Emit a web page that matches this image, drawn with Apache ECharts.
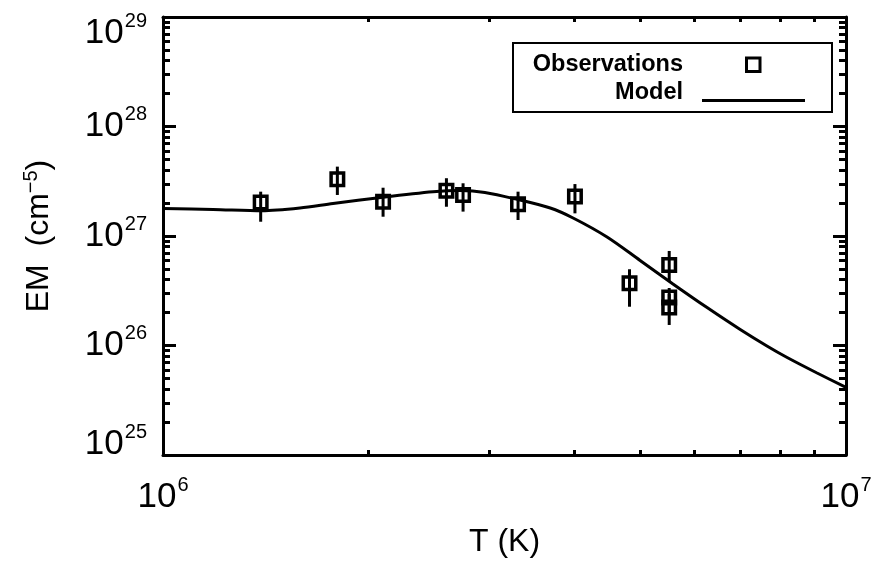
<!DOCTYPE html>
<html><head><meta charset="utf-8">
<script src="https://cdn.jsdelivr.net/npm/echarts@6/dist/echarts.min.js"></script>
<style>html,body{margin:0;padding:0;background:#fff}#c{width:877px;height:563px}</style>
</head><body><div id="c"></div>
<script>
// Observations
const obsT    = [1.39e6, 1.80e6, 2.10e6, 2.60e6, 2.75e6, 3.31e6, 4.01e6, 4.82e6, 5.51e6, 5.51e6, 5.51e6];
const obsEM   = [2.02e27, 3.30e27, 2.06e27, 2.59e27, 2.37e27, 1.95e27, 2.29e27, 3.70e26, 5.43e26, 2.74e26, 2.22e26];
const obsLow  = [1.35e27, 2.37e27, 1.50e27, 1.85e27, 1.67e27, 1.40e27, 1.61e27, 2.26e26, 3.88e26, 2.02e26, 1.54e26];
const obsHigh = [2.54e27, 4.30e27, 2.76e27, 3.37e27, 3.03e27, 2.54e27, 2.98e27, 4.97e26, 7.30e26, 3.35e26, 2.95e26];
// Model
const modelT  = [1.00e6, 1.184e6, 1.396e6, 1.587e6, 1.774e6, 2.10e6, 2.485e6, 2.72e6, 2.96e6, 3.30e6, 3.69e6, 3.985e6, 4.468e6, 4.995e6, 5.58e6, 6.26e6, 7.00e6, 7.66e6, 8.20e6, 9.07e6, 1.00e7];
const modelEM = [1.78e27, 1.75e27, 1.70e27, 1.80e27, 1.98e27, 2.26e27, 2.53e27, 2.60e27, 2.50e27, 2.16e27, 1.80e27, 1.46e27, 9.79e26, 5.98e26, 3.65e26, 2.22e26, 1.40e26, 9.90e25, 7.77e25, 5.61e25, 4.15e25];
// Tick labels (exponents of 10)
const xTickExps = [6, 7];
const yTickExps = [25, 26, 27, 28, 29];
const minorMult = [2, 3, 4, 5, 6, 7, 8, 9];
// Legend entries
const legendNames = ['Observations', 'Model'];

const FONT = 'Liberation Sans';
const p10 = e => Number('1e' + e);
const xMajor = xTickExps.map(p10);
const yMajor = yTickExps.map(p10);
const xMinor = [], yMinor = [];
xTickExps.slice(0, -1).forEach(e => minorMult.forEach(m => xMinor.push(m * p10(e))));
yTickExps.slice(0, -1).forEach(e => minorMult.forEach(m => yMinor.push(m * p10(e))));
// label positions nudged a hair inside the extent so end labels are never filtered out
const inside = arr => arr.map((v, i) => i === 0 ? v * (1 + 1e-9) : (i === arr.length - 1 ? v * (1 - 1e-9) : v));

const expOf = v => Math.round(Math.log10(v));
const labelRich = {
  b:  {fontFamily: FONT, fontSize: 35, color: '#000', lineHeight: 44},
  s:  {fontFamily: FONT, fontSize: 20, color: '#000', verticalAlign: 'top', lineHeight: 20, padding: [0, 0, 0, 1]},
  gt: {fontSize: 10, lineHeight: 32},
  gb: {fontSize: 10, lineHeight: 21}
};
function yLabel(v) {
  const e = expOf(v);
  const core = '{b|10}{s|' + e + '}';
  if (e === yTickExps[yTickExps.length - 1]) return '{gt| }\n' + core;
  if (e === yTickExps[0]) return core + '\n{gb| }';
  return core;
}
function xLabel(v) { return '{b|10}{s|' + expOf(v) + '}'; }

const lineW = 3;
const axisBase = (extra) => Object.assign({
  type: 'log', logBase: 10, splitLine: {show: false},
  axisLine: {show: false}, axisLabel: {show: false}
}, extra);

const xMin = xMajor[0], xMax = xMajor[xMajor.length - 1];
const yMin = yMajor[0], yMax = yMajor[yMajor.length - 1];
const legendFont = 'bold 23.5px "Liberation Sans"';

const option = {
  backgroundColor: '#fff',
  animation: false,
  grid: {left: 163, right: 31, top: 17, bottom: 108, containLabel: false, outerBoundsMode: 'none'},
  legend: {show: false, data: legendNames},
  graphic: [
    {type: 'rect', shape: {x: 513, y: 43, width: 319, height: 69},
     style: {fill: 'none', stroke: '#000', lineWidth: 2}, z: 10},
    {type: 'text', x: 683, y: 65, style: {text: legendNames[0], align: 'right', verticalAlign: 'middle',
     font: legendFont, fill: '#000'}, z: 10},
    {type: 'text', x: 683, y: 93, style: {text: legendNames[1], align: 'right', verticalAlign: 'middle',
     font: legendFont, fill: '#000'}, z: 10},
    {type: 'rect', shape: {x: 746.5, y: 58, width: 13.5, height: 13.5},
     style: {fill: 'none', stroke: '#000', lineWidth: 3}, z: 10},
    {type: 'line', shape: {x1: 702, y1: 100.5, x2: 805, y2: 100.5},
     style: {stroke: '#000', lineWidth: 3}, z: 10}
  ],
  xAxis: [
    axisBase({min: xMin, max: xMax, position: 'bottom',
      axisLine: {show: true, onZero: false, lineStyle: {color: '#000', width: lineW}},
      axisTick: {show: true, inside: true, length: 13, customValues: xMajor, lineStyle: {color: '#000', width: lineW}},
      axisLabel: {show: true, customValues: inside(xMajor), margin: 20, formatter: xLabel, rich: labelRich,
                  showMinLabel: true, showMaxLabel: true},
      name: 'T (K)', nameLocation: 'middle', nameGap: 71,
      nameTextStyle: {fontFamily: FONT, fontSize: 32, color: '#000'}
    }),
    axisBase({min: xMin, max: xMax, position: 'bottom',
      axisTick: {show: true, inside: true, length: 5, customValues: xMinor, lineStyle: {color: '#000', width: lineW}}}),
    axisBase({min: xMin, max: xMax, position: 'top',
      axisLine: {show: true, onZero: false, lineStyle: {color: '#000', width: lineW}},
      axisTick: {show: true, inside: true, length: 13, customValues: xMajor, lineStyle: {color: '#000', width: lineW}}}),
    axisBase({min: xMin, max: xMax, position: 'top',
      axisTick: {show: true, inside: true, length: 5, customValues: xMinor, lineStyle: {color: '#000', width: lineW}}})
  ],
  yAxis: [
    axisBase({min: yMin, max: yMax, position: 'left',
      axisLine: {show: true, onZero: false, lineStyle: {color: '#000', width: lineW}},
      axisTick: {show: true, inside: true, length: 13, customValues: yMajor, lineStyle: {color: '#000', width: lineW}},
      axisLabel: {show: true, customValues: inside(yMajor), margin: 16, formatter: yLabel, rich: labelRich,
                  showMinLabel: true, showMaxLabel: true},
      name: '{n|EM  (cm}{s|\u22125}{n|)}', nameLocation: 'middle', nameGap: 106,
      nameTextStyle: {rich: {
        n: {fontFamily: FONT, fontSize: 32, color: '#000', lineHeight: 36},
        s: {fontFamily: FONT, fontSize: 20, color: '#000', verticalAlign: 'top', lineHeight: 20}
      }}
    }),
    axisBase({min: yMin, max: yMax, position: 'left',
      axisTick: {show: true, inside: true, length: 7, customValues: yMinor, lineStyle: {color: '#000', width: lineW}}}),
    axisBase({min: yMin, max: yMax, position: 'right',
      axisLine: {show: true, onZero: false, lineStyle: {color: '#000', width: lineW}},
      axisTick: {show: true, inside: true, length: 13, customValues: yMajor, lineStyle: {color: '#000', width: lineW}}}),
    axisBase({min: yMin, max: yMax, position: 'right',
      axisTick: {show: true, inside: true, length: 7, customValues: yMinor, lineStyle: {color: '#000', width: lineW}}})
  ],
  series: [
    {
      name: 'Model', type: 'line', xAxisIndex: 0, yAxisIndex: 0,
      data: modelT.map((t, i) => [t, modelEM[i]]),
      symbol: 'none', smooth: 0.3,
      lineStyle: {color: '#000', width: 3}, itemStyle: {color: '#000'}, z: 3
    },
    {
      name: 'Observations', type: 'custom', xAxisIndex: 0, yAxisIndex: 0,
      data: obsT.map((t, i) => [t, obsLow[i], obsHigh[i]]),
      encode: {x: 0, y: [1, 2]},
      renderItem: function (params, api) {
        const p1 = api.coord([api.value(0), api.value(1)]);
        const p2 = api.coord([api.value(0), api.value(2)]);
        return {type: 'line', shape: {x1: p1[0], y1: p1[1], x2: p2[0], y2: p2[1]},
                style: {stroke: '#000', lineWidth: 3}};
      },
      z: 4
    },
    {
      name: 'Observations', type: 'scatter', xAxisIndex: 0, yAxisIndex: 0,
      data: obsT.map((t, i) => [t, obsEM[i]]),
      symbol: 'rect', symbolSize: 12.5,
      itemStyle: {color: 'rgba(255,255,255,0)', borderColor: '#000', borderWidth: 3.5, opacity: 1},
      z: 5
    }
  ]
};
const chart = echarts.init(document.getElementById('c'), null, {renderer: 'canvas'});
chart.setOption(option);
</script>
</body></html>
